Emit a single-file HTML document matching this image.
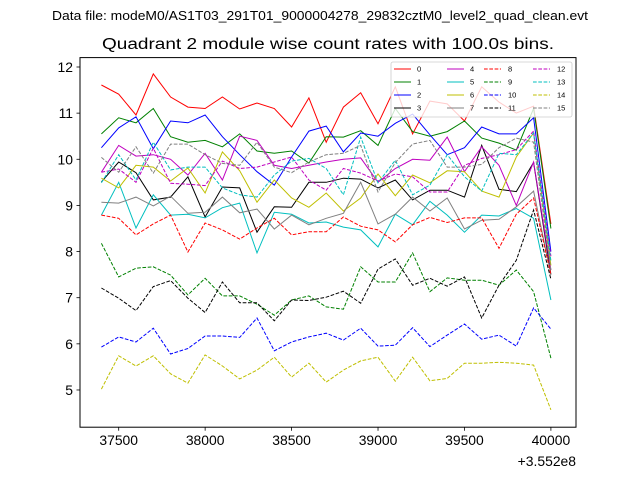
<!DOCTYPE html>
<html><head><meta charset="utf-8"><style>
body{margin:0;background:#fff;}
svg{display:block;font-family:"Liberation Sans","DejaVu Sans",sans-serif;}
</style></head><body>
<svg id="chart" width="640" height="480" viewBox="0 0 640 480" xmlns="http://www.w3.org/2000/svg">
<rect width="640" height="480" fill="#fff"/>
<text x="320" y="20" font-size="12.5" text-anchor="middle" textLength="536" lengthAdjust="spacingAndGlyphs">Data file: modeM0/AS1T03_291T01_9000004278_29832cztM0_level2_quad_clean.evt</text>
<text x="328" y="49" font-size="15.5" text-anchor="middle" textLength="452" lengthAdjust="spacingAndGlyphs">Quadrant 2 module wise count rates with 100.0s bins.</text>
<g id="series"></g>
<rect x="80" y="57.6" width="496" height="369.6" fill="none" stroke="#000" stroke-width="1"/>
<g id="axes"></g>
<text x="576" y="466" font-size="13.9" text-anchor="end">+3.552e8</text>
<g id="legend"></g>
</svg>
<script>
const xTicks=[37500,38000,38500,39000,39500,40000];
const yTicks=[5,6,7,8,9,10,11,12];
const times=[37400,37500,37600,37700,37800,37900,38000,38100,38200,38300,38400,38500,38600,38700,38800,38900,39000,39100,39200,39300,39400,39500,39600,39700,39800,39900,40000];
const s0=[11.61,11.41,10.96,11.85,11.35,11.13,11.1,11.35,11.09,11.22,11.1,10.7,11.33,10.37,11.13,11.44,10.77,11.57,10.55,11.26,11.2,10.83,11.57,11.24,11.0,11.15,8.6];
const s1=[10.55,10.9,10.79,11.1,10.49,10.37,10.41,10.27,10.55,10.18,10.13,10.18,9.92,10.49,10.48,10.62,10.3,11.1,10.6,10.5,10.6,10.83,10.46,10.35,10.2,11.1,8.5];
const s2=[10.25,10.68,10.92,10.23,10.83,10.79,10.96,10.49,10.1,9.73,9.44,10.05,10.61,10.72,10.16,10.57,10.5,10.78,10.98,10.53,10.1,10.25,10.7,10.55,10.55,10.9,8.0];
const s3=[9.51,9.94,9.71,9.12,9.18,9.62,8.75,9.4,9.38,8.42,8.97,8.96,9.5,9.5,9.59,9.57,9.38,9.55,9.12,9.33,9.33,9.18,10.3,9.35,9.3,9.93,7.5];
const s4=[9.72,10.3,10.07,10.1,10.0,9.66,10.13,9.55,10.5,10.41,9.87,9.8,9.87,9.94,10.0,10.03,9.5,9.8,10.0,9.98,10.48,9.73,10.27,9.87,9.0,9.94,7.6];
const s5=[8.79,9.5,8.51,9.23,8.79,8.81,8.73,8.95,9.05,7.97,8.85,8.81,8.62,8.64,8.53,8.47,8.1,8.81,8.58,9.09,8.79,8.42,8.79,8.77,8.93,8.72,6.95];
const s6=[9.59,9.38,9.87,9.83,9.53,9.81,9.27,10.16,9.75,9.07,9.55,9.16,8.96,9.27,8.88,9.16,9.68,9.21,9.66,9.49,9.75,9.73,9.31,9.18,10.05,10.57,7.7];
const s7=[9.07,9.05,9.18,8.99,9.2,8.83,8.85,9.18,8.84,8.92,8.49,8.79,8.58,8.72,8.83,9.5,8.6,8.81,9.18,8.88,9.16,8.49,8.68,8.7,8.97,9.31,7.5];
const s8=[8.79,8.72,8.36,8.6,8.79,7.99,8.62,8.47,8.27,8.51,8.72,8.36,8.43,8.43,8.75,8.55,8.47,8.21,8.58,8.74,8.63,8.73,8.73,8.07,8.81,9.16,7.5];
const s9=[8.18,7.45,7.64,7.67,7.49,7.06,7.42,7.04,7.04,6.86,6.62,6.95,7.04,6.8,6.75,7.67,7.34,7.34,7.97,7.13,7.43,7.38,7.38,7.27,7.6,7.13,5.69];
const s10=[5.93,6.15,6.04,6.34,5.78,5.9,6.17,6.17,6.14,6.56,5.85,6.04,6.15,6.23,6.08,6.34,5.95,5.97,6.35,5.94,6.19,6.43,6.1,6.19,5.95,6.78,6.32];
const s11=[7.21,6.99,6.72,7.24,7.37,6.99,6.68,7.34,6.89,6.89,6.5,6.95,6.94,7.01,7.14,6.88,7.62,7.84,7.27,7.42,7.25,7.45,6.56,7.27,7.81,8.9,7.4];
const s12=[9.72,9.79,9.5,10.24,9.48,9.46,9.43,9.96,9.8,9.83,9.94,10.05,9.55,9.33,9.8,9.7,9.53,9.68,9.62,9.29,9.29,9.87,10.02,10.1,10.21,10.61,7.9];
const s13=[9.49,10.1,9.55,10.37,9.77,9.83,9.83,9.38,9.23,9.18,9.66,9.96,10.02,9.8,9.23,10.48,9.49,9.98,9.23,9.44,10.1,9.62,9.31,10.13,10.1,10.57,7.8];
const s14=[5.02,5.74,5.52,5.74,5.35,5.15,5.76,5.52,5.24,5.43,5.71,5.28,5.58,5.17,5.43,5.63,5.71,5.19,5.71,5.2,5.25,5.58,5.58,5.6,5.58,5.54,4.57];
const s15=[10.04,9.72,10.27,9.7,10.33,10.33,10.1,9.91,9.87,10.37,9.83,9.71,9.94,10.1,10.13,10.3,9.29,9.93,10.33,10.41,9.83,9.83,9.89,10.25,10.46,10.37,7.6];
const seriesNames=["0","1","2","3","4","5","6","7","8","9","10","11","12","13","14","15"];
const allSeries=[s0,s1,s2,s3,s4,s5,s6,s7,s8,s9,s10,s11,s12,s13,s14,s15];
const colors=["#ff0000","#008000","#0000ff","#000000","#bf00bf","#00bfbf","#bfbf00","#808080"];
const NS="http://www.w3.org/2000/svg";
function xs(t){return 118.7+(t-37500)*0.17288;}
function ys(v){return 67+(12-v)*46.14;}
function mk(tag,attrs,parent){const e=document.createElementNS(NS,tag);for(const k in attrs)e.setAttribute(k,attrs[k]);parent.appendChild(e);return e;}
const sg=document.getElementById('series');
allSeries.forEach((vals,si)=>{
  const pts=vals.map((v,i)=>xs(times[i]).toFixed(1)+","+ys(v).toFixed(1)).join(" ");
  const pl=mk('polyline',{points:pts,fill:"none",stroke:colors[si%8],"stroke-width":1},sg);
  if(si>=8)pl.setAttribute('stroke-dasharray','3.7,1.6');
  
  
});
const ag=document.getElementById('axes');
xTicks.forEach(t=>{
  const x=xs(t);
  const l=mk('line',{x1:x,x2:x,y1:427.2,y2:430.7,stroke:"#000","stroke-width":0.8},ag);
  
  
  const tx=mk('text',{x:x,y:445,"font-size":13.9,"text-anchor":"middle"},ag);
  tx.textContent=String(t);
  
  
});
yTicks.forEach(v=>{
  const y=ys(v);
  const l=mk('line',{x1:76.5,x2:80,y1:y,y2:y,stroke:"#000","stroke-width":0.8},ag);
  
  
  const tx=mk('text',{x:73,y:y+5,"font-size":13.9,"text-anchor":"end"},ag);
  tx.textContent=String(v);
  
  
});
const lg=document.getElementById('legend');


mk('rect',{x:391,y:62,width:181,height:55,rx:2,fill:"#fff","fill-opacity":0.8,stroke:"#ccc","stroke-width":0.8},lg);
const colX=[394,465,486,533];
const colLine=[[394,411,417],[447,464,470],[484,501,508],[533,550,557]];
seriesNames.forEach((n,i)=>{
  const c=Math.floor(i/4),r=i%4;
  const y=69+r*13;
  const [x1,x2,tx]=colLine[c];
  const l=mk('line',{x1:x1,x2:x2,y1:y,y2:y,stroke:colors[i%8],"stroke-width":1},lg);
  if(i>=8)l.setAttribute('stroke-dasharray','3.7,1.6');
  
  
  const t=mk('text',{x:tx,y:y+2.5,"font-size":7.5},lg);
  t.textContent=n;
  
  
});
</script>
</body></html>
